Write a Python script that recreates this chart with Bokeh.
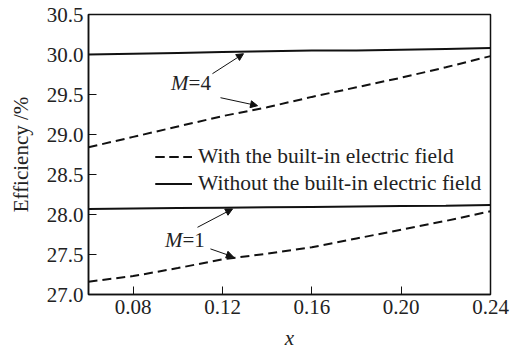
from bokeh.plotting import figure
from bokeh.models import (Legend, LegendItem, Arrow, NormalHead, Label, Range1d,
                          FixedTicker)
from bokeh.embed import file_html
from bokeh.resources import INLINE

# ---- data ----
x_vals = [0.06, 0.08, 0.10, 0.12, 0.14, 0.16, 0.18, 0.20, 0.22, 0.24]
m4_with = [28.84, 28.97, 29.10, 29.23, 29.34, 29.47, 29.59, 29.71, 29.84, 29.98]
m4_without = [30.00, 30.01, 30.02, 30.03, 30.04, 30.05, 30.05, 30.06, 30.07, 30.08]
m1_with = [27.16, 27.23, 27.33, 27.44, 27.51, 27.59, 27.70, 27.81, 27.92, 28.04]
m1_without = [28.07, 28.075, 28.08, 28.085, 28.09, 28.095, 28.10, 28.105, 28.11, 28.12]

x_ticks = [0.08, 0.12, 0.16, 0.20, 0.24]
x_tick_labels = ["0.08", "0.12", "0.16", "0.20", "0.24"]
y_ticks = [27.0, 27.5, 28.0, 28.5, 29.0, 29.5, 30.0, 30.5]
y_tick_labels = ["27.0", "27.5", "28.0", "28.5", "29.0", "29.5", "30.0", "30.5"]

legend_labels = ["With the built-in electric field", "Without the built-in electric field"]
x_title = "x"
y_title = "Efficiency /%"

# annotations: value part, text anchor x, y, arrow1 start/end, arrow2 start/end
ann_m4 = dict(val="=4", tx=0.1048, ty=29.65,
              a1=(0.1155, 29.76, 0.1294, 30.01), a2=(0.1191, 29.46, 0.1357, 29.36))
ann_m1 = dict(val="=1", tx=0.1021, ty=27.68,
              a1=(0.1088, 27.84, 0.1245, 28.07), a2=(0.1146, 27.57, 0.1249, 27.47))

FONT = "Liberation Serif"
TXT = "#222222"

p = figure(width=511, height=352, output_backend="svg", toolbar_location=None,
           x_range=Range1d(0.06, 0.24), y_range=Range1d(27.0, 30.5),
           min_border_left=88, min_border_right=21, min_border_top=14,
           min_border_bottom=58)
p.background_fill_color = "white"
p.border_fill_color = "white"
p.outline_line_color = "#111111"
p.outline_line_width = 1.5
p.xgrid.visible = False
p.ygrid.visible = False

for ax in (p.xaxis[0], p.yaxis[0]):
    ax.axis_line_color = "#111111"
    ax.axis_line_width = 1.5
    ax.major_tick_line_color = "#111111"
    ax.major_tick_line_width = 1
    ax.major_tick_in = 8
    ax.major_tick_out = 0
    ax.minor_tick_line_color = None
    ax.major_label_text_font = FONT
    ax.major_label_text_font_size = "21px"
    ax.major_label_text_color = TXT
    ax.axis_label_text_font = FONT
    ax.axis_label_text_font_size = "21px"
    ax.axis_label_text_color = TXT

p.xaxis.ticker = FixedTicker(ticks=x_ticks)
p.xaxis.major_label_overrides = dict(zip(x_ticks, x_tick_labels))
p.xaxis.major_label_standoff = 5
p.xaxis.axis_label = x_title
p.xaxis.axis_label_text_font_style = "italic"
p.xaxis.axis_label_standoff = 9

p.yaxis.ticker = FixedTicker(ticks=y_ticks)
p.yaxis.major_label_overrides = dict(zip(y_ticks, y_tick_labels))
p.yaxis.major_label_standoff = 5
p.yaxis.axis_label = y_title
p.yaxis.axis_label_text_font_style = "normal"
p.yaxis.axis_label_standoff = 11

LW = 2
DASH = "9 5"
r4d = p.line(x_vals, m4_with, line_color="#111111", line_width=LW, line_dash=DASH)
r4s = p.line(x_vals, m4_without, line_color="#111111", line_width=LW)
r1d = p.line(x_vals, m1_with, line_color="#111111", line_width=LW, line_dash=DASH)
r1s = p.line(x_vals, m1_without, line_color="#111111", line_width=LW)

legend = Legend(items=[LegendItem(label=legend_labels[0], renderers=[r4d, r1d]),
                       LegendItem(label=legend_labels[1], renderers=[r4s, r1s])],
                location=(67, 98), padding=0, margin=0, spacing=2,
                glyph_width=37, glyph_height=21, label_height=21, label_standoff=6,
                label_text_font=FONT, label_text_font_size="21.5px",
                label_text_color=TXT, border_line_color=None,
                background_fill_alpha=0)
p.add_layout(legend)

for ann in (ann_m4, ann_m1):
    p.add_layout(Label(x=ann["tx"], y=ann["ty"], text="M", text_align="right",
                       text_baseline="middle", text_font=FONT,
                       text_font_style="italic", text_font_size="21px",
                       text_color=TXT))
    p.add_layout(Label(x=ann["tx"], y=ann["ty"], text=ann["val"], text_align="left",
                       text_baseline="middle", text_font=FONT,
                       text_font_size="21px", text_color=TXT))
    for (xs, ys, xe, ye) in (ann["a1"], ann["a2"]):
        p.add_layout(Arrow(x_start=xs, y_start=ys, x_end=xe, y_end=ye,
                           line_color="#111111", line_width=1,
                           end=NormalHead(size=7, fill_color="#111111",
                                          line_color="#111111", line_width=1)))

open("out.html", "w").write(file_html(p, INLINE))
